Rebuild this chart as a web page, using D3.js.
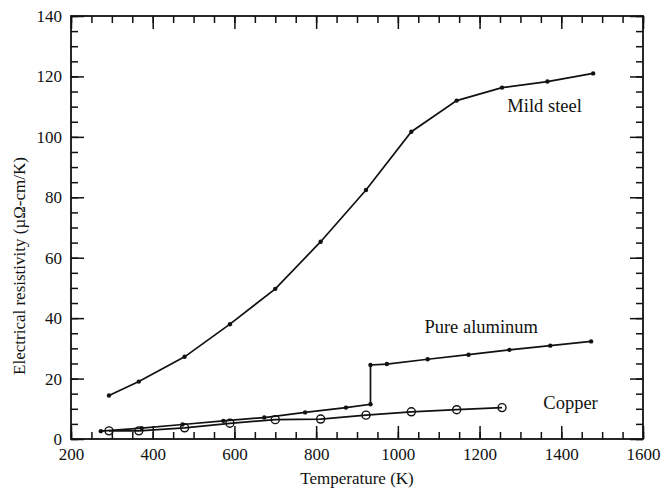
<!DOCTYPE html>
<html>
<head>
<meta charset="utf-8">
<script src="https://cdn.jsdelivr.net/npm/d3@7"></script>
<style>
  body { margin: 0; background: #fff; }
  text { font-family: "Liberation Serif", "Times New Roman", serif; fill: #111; }
  .axis path { display: none; }
  .axis line { stroke: #111; stroke-width: 1.5; }
  .axis text { font-size: 17px; }
</style>
</head>
<body>
<div id="chart"></div>
<script>
// values (temperature in K, resistivity in µΩ-cm)
var steelT = [293, 366, 478, 589, 700, 811, 922, 1033, 1144, 1255, 1366, 1478]
var steelR = [14.4, 19.0, 27.2, 38.0, 49.7, 65.3, 82.4, 101.7, 112.0, 116.3, 118.3, 121.0]

var aluT = [273, 373, 473, 573, 673, 773, 873, 933, 933, 973, 1073, 1173, 1273, 1373, 1473]
var aluR = [2.6, 3.6, 4.8, 6.0, 7.1, 8.8, 10.4, 11.5, 24.5, 24.8, 26.4, 27.9, 29.5, 30.9, 32.3]

var copperT = [293, 366, 478, 589, 700, 811, 922, 1033, 1144, 1255]
var copperR = [2.7, 2.7, 3.7, 5.2, 6.4, 6.6, 7.9, 9.0, 9.7, 10.4]

var xTicks = [200, 400, 600, 800, 1000, 1200, 1400, 1600]
var yTicks = [0, 20, 40, 60, 80, 100, 120, 140]

var labelText = ["Mild steel", "Pure aluminum", "Copper"]
var labelT = [1268, 1065, 1356]
var labelR = [108.2, 35.1, 9.9]

var width = 666, height = 493
var margin = {left: 71, right: 23, top: 16, bottom: 54}
var w = width - margin.left - margin.right
var h = height - margin.top - margin.bottom

var svg = d3.select("#chart").append("svg")
  .attr("width", width).attr("height", height)

var g = svg.append("g").attr("transform", "translate(" + margin.left + "," + margin.top + ")")

var x = d3.scaleLinear().domain([200, 1600]).range([0, w])
var y = d3.scaleLinear().domain([0, 140]).range([h, 0])

var xMinor = d3.range(200, 1601, 50)
var yMinor = d3.range(0, 141, 5)

function zip(a, b) { return a.map(function(d, i) { return [d, b[i]] }) }

//////////
// Axes //
//////////
var major = 13, minor = 7

// minor ticks on the four sides
g.append("g").attr("class", "axis").attr("transform", "translate(0," + h + ")")
  .call(d3.axisBottom(x).tickValues(xMinor).tickSize(-minor).tickFormat(""))
g.append("g").attr("class", "axis")
  .call(d3.axisTop(x).tickValues(xMinor).tickSize(-minor).tickFormat(""))
g.append("g").attr("class", "axis")
  .call(d3.axisLeft(y).tickValues(yMinor).tickSize(-minor).tickFormat(""))
g.append("g").attr("class", "axis").attr("transform", "translate(" + w + ",0)")
  .call(d3.axisRight(y).tickValues(yMinor).tickSize(-minor).tickFormat(""))

// major ticks with labels on bottom and left
g.append("g").attr("class", "axis").attr("transform", "translate(0," + h + ")")
  .call(d3.axisBottom(x).tickValues(xTicks).tickSize(-major).tickPadding(9).tickFormat(d3.format("d")))
g.append("g").attr("class", "axis")
  .call(d3.axisTop(x).tickValues(xTicks).tickSize(-major).tickFormat(""))
g.append("g").attr("class", "axis")
  .call(d3.axisLeft(y).tickValues(yTicks).tickSize(-major).tickPadding(9).tickFormat(d3.format("d")))
g.append("g").attr("class", "axis").attr("transform", "translate(" + w + ",0)")
  .call(d3.axisRight(y).tickValues(yTicks).tickSize(-major).tickFormat(""))

// frame
g.append("rect")
  .attr("width", w).attr("height", h)
  .attr("fill", "none").attr("stroke", "#111").attr("stroke-width", 1.8)

// axis titles
svg.append("text")
  .attr("x", margin.left + w / 2).attr("y", 484)
  .attr("text-anchor", "middle").style("font-size", "17px")
  .text("Temperature (K)")

svg.append("text")
  .attr("transform", "translate(25," + 266 + ") rotate(-90)")
  .attr("text-anchor", "middle").style("font-size", "17px")
  .text("Electrical resistivity (µΩ-cm/K)")

///////////
// Lines //
///////////
var line = d3.line().x(function(d) { return x(d[0]) }).y(function(d) { return y(d[1]) })

var steel = zip(steelT, steelR)
var alu = zip(aluT, aluR)
var copper = zip(copperT, copperR)

;[steel, alu, copper].forEach(function(s) {
  g.append("path").attr("d", line(s))
    .attr("fill", "none").attr("stroke", "#111").attr("stroke-width", 1.7)
})

// filled dots for steel and aluminum
g.selectAll("circle.dot").data(steel.concat(alu)).enter().append("circle")
  .attr("class", "dot")
  .attr("cx", function(d) { return x(d[0]) })
  .attr("cy", function(d) { return y(d[1]) })
  .attr("r", 2.2).attr("fill", "#111")

// open circles for copper
g.selectAll("circle.open").data(copper).enter().append("circle")
  .attr("class", "open")
  .attr("cx", function(d) { return x(d[0]) })
  .attr("cy", function(d) { return y(d[1]) })
  .attr("r", 4).attr("fill", "none").attr("stroke", "#111").attr("stroke-width", 1.4)

// series labels
g.selectAll("text.lab").data(labelText).enter().append("text")
  .attr("class", "lab")
  .attr("x", function(d, i) { return x(labelT[i]) })
  .attr("y", function(d, i) { return y(labelR[i]) })
  .style("font-size", "18.5px")
  .text(function(d) { return d })
</script>
</body>
</html>
